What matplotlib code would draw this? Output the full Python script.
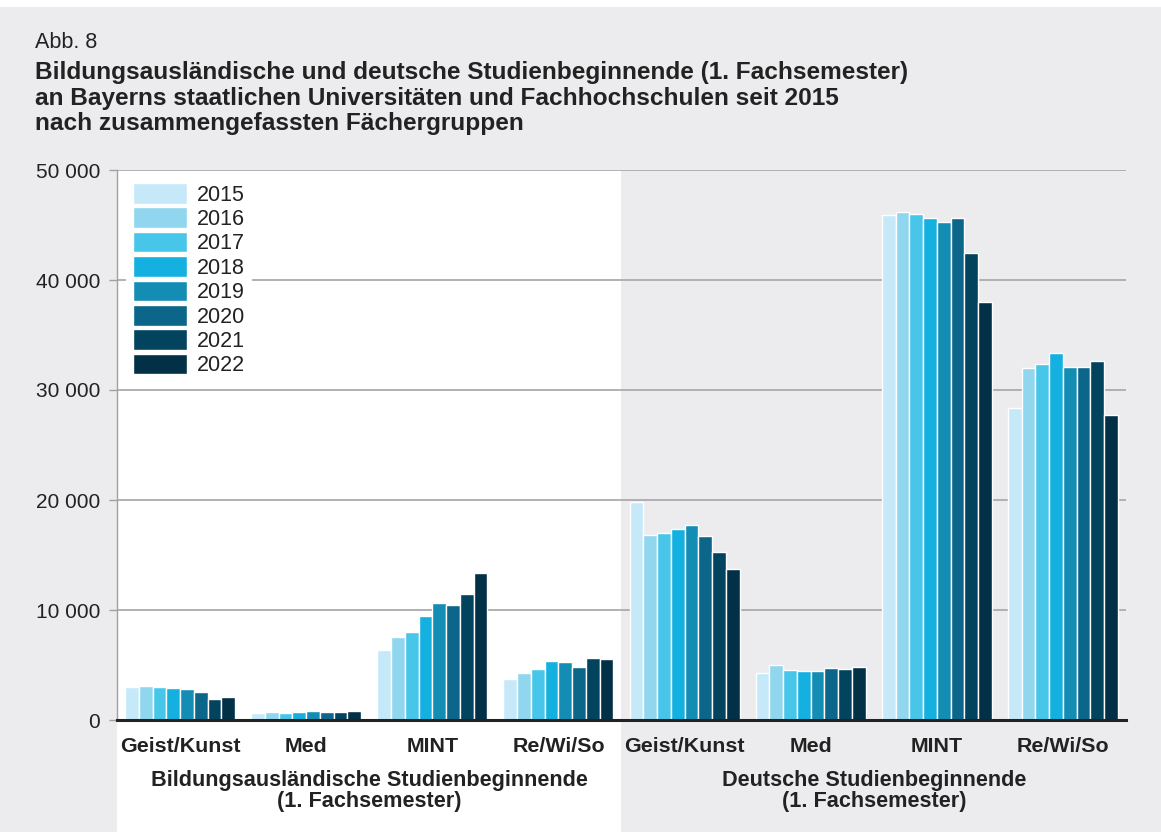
import matplotlib
matplotlib.use("Agg")
import matplotlib.pyplot as plt
import matplotlib.ticker as plticker
from matplotlib.patches import Rectangle
import numpy as np

plt.rcParams['font.family'] = ['Liberation Sans', 'DejaVu Sans']

# data
years = ["2015", "2016", "2017", "2018", "2019", "2020", "2021", "2022"]
faecher = ["Geist/Kunst", "Med", "MINT", "Re/Wi/So"]
gruppen = ["Bildungsausländische Studienbeginnende\n(1. Fachsemester)",
           "Deutsche Studienbeginnende\n(1. Fachsemester)"]

# one list per year: Geist, Med, MINT, ReWiSo (Bildungsausl.) then Geist, Med, MINT, ReWiSo (Deutsche)
v2015 = [3030, 660, 6360, 3730, 19860, 4290, 45940, 28320]
v2016 = [3090, 700, 7550, 4270, 16780, 5010, 46160, 31960]
v2017 = [3030, 660, 8030, 4670, 17000, 4580, 46000, 32350]
v2018 = [2940, 730, 9450, 5330, 17330, 4420, 45680, 33390]
v2019 = [2850, 820, 10640, 5240, 17690, 4490, 45290, 32090]
v2020 = [2580, 750, 10430, 4790, 16740, 4750, 45640, 32060]
v2021 = [1940, 730, 11480, 5640, 15280, 4680, 42460, 32610]
v2022 = [2120, 850, 13390, 5580, 13750, 4810, 37970, 27730]
werte = [v2015, v2016, v2017, v2018, v2019, v2020, v2021, v2022]

farben = ["#C6E9F9", "#8FD6EE", "#47C6EA", "#13B0E0",
          "#148DB4", "#0C6689", "#02435E", "#023047"]

bg = "#ECECEE"
fig = plt.figure(figsize=(11.61, 8.32), dpi=100, facecolor=bg)

# white strip on top, white panel behind the left half
fig.patches.append(Rectangle((0, 825 / 832), 1, 7 / 832, transform=fig.transFigure,
                             facecolor="white", edgecolor="none", zorder=-10))
fig.patches.append(Rectangle((117 / 1161, 0), (621 - 117) / 1161, (832 - 170) / 832,
                             transform=fig.transFigure, facecolor="white",
                             edgecolor="none", zorder=-10))

ax = fig.add_axes([117 / 1161, 112 / 832, (1126 - 117) / 1161, 550 / 832])
ax.set_facecolor("none")

n = len(years)
slot = 0.109
x = np.arange(len(faecher) * 2)
for i, (yr, vals) in enumerate(zip(years, werte)):
    offs = (i - (n - 1) / 2) * slot
    ax.bar(x + offs, vals, width=slot, color=farben[i], edgecolor="white",
           linewidth=1.0, label=yr, zorder=3)

ax.set_xlim(-0.5, 7.5)
ax.set_ylim(0, 50000)
ax.set_yticks(np.arange(0, 50001, 10000))
ax.yaxis.set_major_formatter(plticker.FuncFormatter(
    lambda v, p: "{:,}".format(int(v)).replace(",", " ")))
ax.grid(axis="y", color="#ABABAB", linewidth=1.3, zorder=0)
ax.set_axisbelow(True)
ax.tick_params(axis="y", length=6, width=1, color="#A0A0A0", pad=6,
               labelsize=15, labelcolor="#222222")
ax.tick_params(axis="x", bottom=False, labelbottom=False)

for s in ["top", "right"]:
    ax.spines[s].set_visible(False)
ax.spines["left"].set_color("#A0A0A0")
ax.spines["left"].set_linewidth(1)
ax.spines["bottom"].set_color("#222222")
ax.spines["bottom"].set_linewidth(2.2)
ax.spines["bottom"].set_zorder(5)

# category labels and group labels
trans = ax.get_xaxis_transform()
for k in range(len(x)):
    ax.text(x[k], -27 / 550, faecher[k % 4], transform=trans, ha="center",
            va="center", fontsize=15.4, fontweight="bold", color="#222222")
for g, lab in enumerate(gruppen):
    ax.text(1.5 + 4 * g, -71 / 550, lab, transform=trans, ha="center",
            va="center", fontsize=15.6, fontweight="bold", color="#222222",
            linespacing=0.98)

leg = ax.legend(loc="upper left", bbox_to_anchor=(0.009, 0.988), fontsize=15.5,
                frameon=True, facecolor="white", edgecolor="none", framealpha=1,
                handlelength=2.55, handleheight=1.1, labelspacing=0.08,
                handletextpad=0.45, borderpad=0.3, borderaxespad=0)
for t in leg.get_texts():
    t.set_color("#222222")

fig.text(35 / 1161, 1 - 42 / 832, "Abb. 8", fontsize=15.5, color="#222222",
         ha="left", va="center")
fig.text(35 / 1161, 1 - 98 / 832,
         "Bildungsausländische und deutsche Studienbeginnende (1. Fachsemester)\n"
         "an Bayerns staatlichen Universitäten und Fachhochschulen seit 2015\n"
         "nach zusammengefassten Fächergruppen",
         fontsize=17.6, fontweight="bold", color="#222222", ha="left", va="center",
         linespacing=1.15)

fig.savefig("out.png", dpi=100, facecolor=bg)
